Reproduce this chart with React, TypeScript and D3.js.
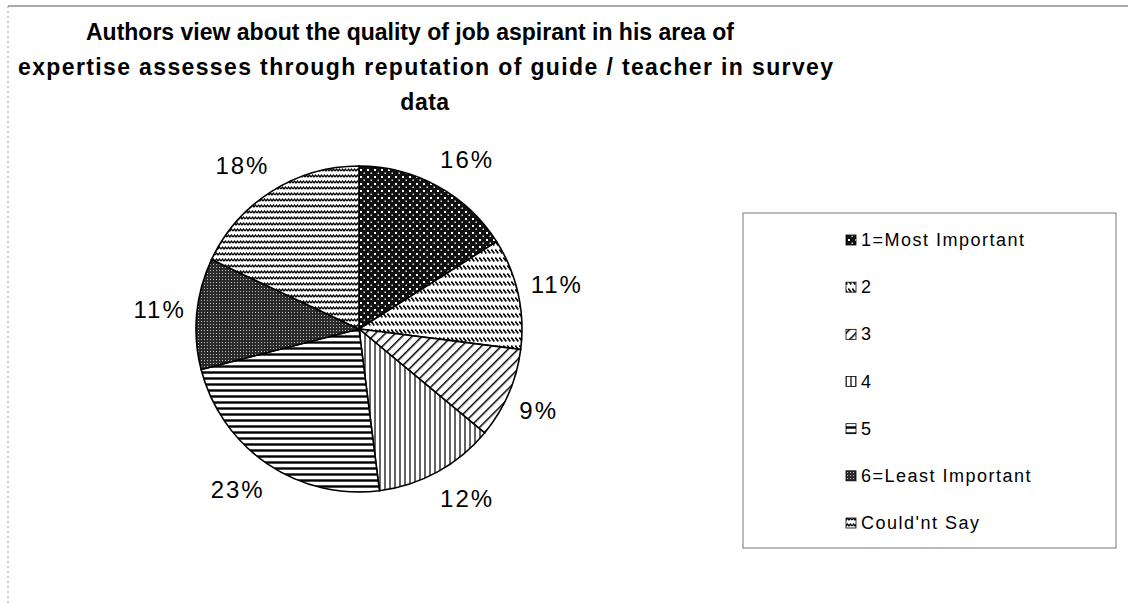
import React from "react";
import * as d3 from "d3";

const titleLines = [
  "Authors view about the quality of job aspirant in his area of",
  "expertise assesses through reputation of guide / teacher in survey",
  "data",
];
const categories = ["1=Most Important", "2", "3", "4", "5", "6=Least Important", "Could'nt Say"];
const values = [16, 11, 9, 12, 23, 11, 18];
const patternIds = ["p1", "p2", "p3", "p4", "p5", "p6", "p7"];

const W = 1128;
const H = 603;
const cx = 359;
const cy = 329;
const R = 163;
const labelGap = 17;
const labelFont = 24;
const labelSpacing = 2;

function Patterns() {
  return (
    <defs>
      <pattern id="p1" patternUnits="userSpaceOnUse" width="7" height="7">
        <rect width="7" height="7" fill="#111" />
        <rect x="1" y="1" width="2" height="2" fill="#fff" />
        <rect x="4.5" y="4.5" width="1.5" height="1.5" fill="#ddd" />
      </pattern>
      <pattern id="p2" patternUnits="userSpaceOnUse" width="4" height="8">
        <rect width="4" height="8" fill="#fff" />
        <path d="M0.3,0.5 L3.3,4.5" stroke="#000" strokeWidth="1.6" />
      </pattern>
      <pattern id="p3" patternUnits="userSpaceOnUse" width="7" height="7" patternTransform="rotate(45)">
        <rect width="7" height="7" fill="#fff" />
        <line x1="0" y1="0" x2="0" y2="7" stroke="#000" strokeWidth="3" />
      </pattern>
      <pattern id="p4" patternUnits="userSpaceOnUse" width="5" height="5">
        <rect width="5" height="5" fill="#fff" />
        <line x1="1" y1="0" x2="1" y2="5" stroke="#111" strokeWidth="1.3" />
      </pattern>
      <pattern id="p5" patternUnits="userSpaceOnUse" width="6" height="6">
        <rect width="6" height="6" fill="#fff" />
        <line x1="0" y1="1.5" x2="6" y2="1.5" stroke="#000" strokeWidth="2.4" />
      </pattern>
      <pattern id="p6" patternUnits="userSpaceOnUse" width="3" height="3">
        <rect width="3" height="3" fill="#2a2a2a" />
        <rect x="1" y="1" width="1" height="1" fill="#bbb" />
      </pattern>
      <pattern id="p7" patternUnits="userSpaceOnUse" width="6" height="6">
        <rect width="6" height="6" fill="#fff" />
        <path d="M0,4 L1.5,2 L3,4 L4.5,2 L6,4" stroke="#000" strokeWidth="1.3" fill="none" />
      </pattern>
    </defs>
  );
}

const clamp1 = (v: number) => Math.max(-1, Math.min(1, v));

export default function App() {
  const pie = d3.pie<number>().sort(null).value((d) => d);
  const arcs = pie(values);
  const arc = d3.arc<d3.PieArcDatum<number>>().innerRadius(0).outerRadius(R);
  const anchorArc = d3
    .arc<d3.PieArcDatum<number>>()
    .innerRadius(R + labelGap)
    .outerRadius(R + labelGap);
  const total = d3.sum(values);

  const legendY = d3.scalePoint<string>().domain(categories).range([240, 523]);

  const font = "'Liberation Sans', Arial, sans-serif";

  return (
    <svg width={W} height={H} style={{ position: "absolute", left: 0, top: 0, background: "#fff" }}>
      <Patterns />
      <rect x={0} y={0} width={W} height={H} fill="#fff" />
      <line x1={8} y1={6} x2={W} y2={6} stroke="#555" strokeWidth={1} />
      <line x1={8} y1={6} x2={8} y2={H} stroke="#999" strokeWidth={1} strokeDasharray="2,3" />
      <g fontFamily={font} fontWeight="bold" fontSize={23} fill="#000">
        <text x={86} y={40}>
          {titleLines[0]}
        </text>
        <text x={18} y={75} textLength={815} lengthAdjust="spacing">
          {titleLines[1]}
        </text>
        <text x={425} y={110} textAnchor="middle" letterSpacing={0.5}>
          {titleLines[2]}
        </text>
      </g>
      <g transform={`translate(${cx},${cy})`}>
        {arcs.map((a, i) => (
          <path key={i} d={arc(a) || ""} fill={`url(#${patternIds[i]})`} stroke="#000" strokeWidth={1.6} />
        ))}
        {arcs.map((a, i) => {
          const label = `${Math.round((a.data / total) * 100)}%`;
          const [px, py] = anchorArc.centroid(a);
          const mid = (a.startAngle + a.endAngle) / 2;
          const w = label.length * (labelFont * 0.56 + labelSpacing) - 4;
          const h = labelFont;
          const x = px + (w / 2) * clamp1(Math.sin(mid) * 2);
          const y = py + (h / 2) * clamp1(-Math.cos(mid) * 2);
          return (
            <text
              key={"l" + i}
              x={x + labelSpacing / 2}
              y={y}
              textAnchor="middle"
              dominantBaseline="central"
              fontFamily={font}
              fontSize={labelFont}
              letterSpacing={labelSpacing}
              fill="#000"
            >
              {label}
            </text>
          );
        })}
      </g>
      <rect x={743} y={213} width={373} height={335} fill="none" stroke="#777" strokeWidth={1} />
      <g fontFamily={font} fontSize={18} fill="#000">
        {categories.map((c, i) => {
          const y = legendY(c) as number;
          return (
            <g key={c}>
              <rect x={846} y={y - 5} width={10} height={10} fill={`url(#${patternIds[i]})`} stroke="#000" strokeWidth={0.8} />
              <text x={861} y={y} dominantBaseline="central" letterSpacing={1.5}>
                {c}
              </text>
            </g>
          );
        })}
      </g>
    </svg>
  );
}
